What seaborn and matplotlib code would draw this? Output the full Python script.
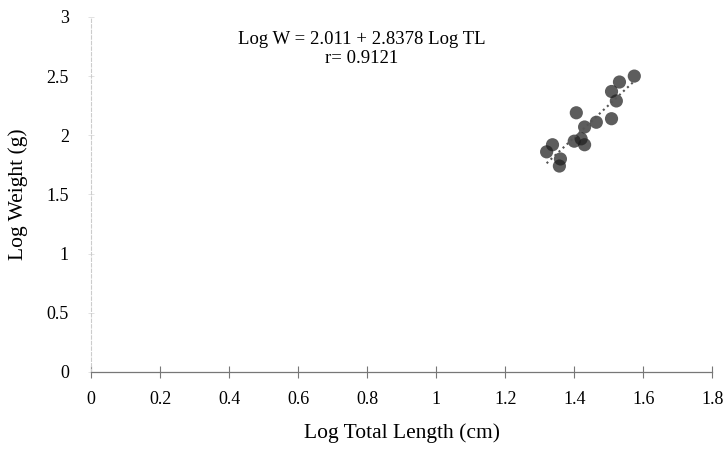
import numpy as np
import pandas as pd
import matplotlib
matplotlib.use('Agg')
import matplotlib.pyplot as plt
import seaborn as sns

# values
log_tl = [1.574, 1.531, 1.508, 1.522, 1.406, 1.508, 1.464, 1.430, 1.420,
          1.430, 1.400, 1.337, 1.320, 1.360, 1.357]
log_w = [2.50, 2.45, 2.37, 2.29, 2.19, 2.14, 2.11, 2.07, 1.97,
         1.92, 1.95, 1.92, 1.86, 1.80, 1.74]
x_ticks = [0, 0.2, 0.4, 0.6, 0.8, 1, 1.2, 1.4, 1.6, 1.8]
y_ticks = [0, 0.5, 1, 1.5, 2, 2.5, 3]
x_ticklabels = ['0', '0.2', '0.4', '0.6', '0.8', '1', '1.2', '1.4', '1.6', '1.8']
y_ticklabels = ['0', '0.5', '1', '1.5', '2', '2.5', '3']
equation = 'Log W = 2.011 + 2.8378 Log TL'
r_text = 'r= 0.9121'

df = pd.DataFrame({'LogTL': log_tl, 'LogW': log_w})

sns.set_style('white')
plt.rcParams['font.family'] = ['Liberation Serif', 'DejaVu Serif']
plt.rcParams['text.color'] = 'black'
plt.rcParams['axes.labelcolor'] = 'black'
plt.rcParams['xtick.color'] = 'black'
plt.rcParams['ytick.color'] = 'black'

fig = plt.figure(figsize=(7.25, 4.57), dpi=100)
ax = fig.add_axes([0.1255, 0.186, 0.857, 0.777])

sns.regplot(x='LogTL', y='LogW', data=df, ax=ax, ci=None,
            scatter_kws={'s': 90, 'color': '#1e1e1e', 'alpha': 0.72, 'edgecolor': 'none'},
            line_kws={'color': '#555555', 'linestyle': ':', 'linewidth': 1.5})

ax.set_xlim(0, 1.8)
ax.set_ylim(0, 3)
ax.set_xticks(x_ticks)
ax.set_xticklabels(x_ticklabels)
ax.set_yticks(y_ticks)
ax.set_yticklabels(y_ticklabels)
ax.tick_params(axis='both', labelsize=13)
ax.tick_params(axis='x', direction='inout', length=8, width=0.8,
               color='#777777', bottom=True, pad=10)
ax.tick_params(axis='y', direction='inout', length=4, width=0.6,
               color='#dddddd', left=True, pad=14)

for s in ['top', 'right']:
    ax.spines[s].set_visible(False)
ax.spines['bottom'].set_color('#777777')
ax.spines['bottom'].set_linewidth(0.9)
ax.spines['left'].set_color('#cccccc')
ax.spines['left'].set_linewidth(0.8)
ax.spines['left'].set_linestyle((0, (3, 2)))

ax.set_xlabel('Log Total Length (cm)', fontsize=15.5, labelpad=11)
ax.set_ylabel('Log Weight (g)', fontsize=15.5, labelpad=13)

ax.text(0.784, 2.81, equation, ha='center', va='center', fontsize=13.5)
ax.text(0.784, 2.65, r_text, ha='center', va='center', fontsize=13.5)

fig.savefig('out.png', dpi=100)
